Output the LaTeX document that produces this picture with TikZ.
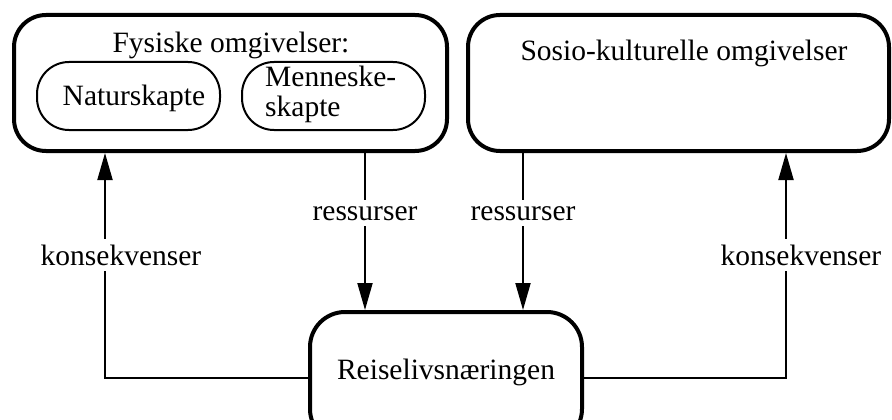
\documentclass[tikz,border=0pt]{standalone}
\usepackage{fontspec}
\setmainfont{Liberation Serif}
\usetikzlibrary{arrows.meta}
\begin{document}
\begin{tikzpicture}[x=1pt,y=-1pt,
  bigbox/.style={draw,line width=4pt,rounded corners=32pt,inner sep=0pt},
  subbox/.style={draw,line width=2pt,rounded corners=32pt,inner sep=0pt},
  txt/.style={font=\fontsize{29.5}{30}\selectfont,inner sep=0pt,anchor=base},
  lbl/.style={txt,fill=white,inner xsep=2pt,inner ysep=6pt},
  conn/.style={line width=2pt,-{Triangle[length=27pt,width=15pt]}},
  plain/.style={line width=2pt}]
  \clip (0,0) rectangle (892,420);

  % outer boxes
  \node[bigbox,minimum width=433pt,minimum height=136pt] (phys) at (230.5,83) {};
  \node[bigbox,minimum width=421pt,minimum height=136pt] (soc) at (678.5,83) {};
  \node[bigbox,rounded corners=35pt,minimum width=272pt,minimum height=132pt] (tour) at (446,378) {};

  % inner boxes of the physical surroundings
  \node[subbox,minimum width=183pt,minimum height=68pt] (nat) at (128.5,96) {};
  \node[subbox,minimum width=183pt,minimum height=68pt] (man) at (333.5,96) {};

  % texts
  \node[txt] (physT) at (231,53) {Fysiske omgivelser:};
  \node[txt] (socT) at (684,61) {Sosio-kulturelle omgivelser};
  \node[txt] (natT) at (134,106) {Naturskapte};
  \node[txt,anchor=base west] (manT1) at (265,87) {Menneske-};
  \node[txt,anchor=base west] (manT2) at (265,117) {skapte};
  \node[txt] (tourT) at (446,379) {Reiselivsnæringen};

  % x positions of the vertical connectors
  \coordinate (xr1) at (365,0);
  \coordinate (xr2) at (523,0);
  \coordinate (xk1) at (105,0);
  \coordinate (xk2) at (786,0);

  % resources flowing down into the industry
  \draw[conn] (phys.south -| xr1) -- (tour.north -| xr1);
  \draw[conn] (soc.south -| xr2) -- (tour.north -| xr2);

  % consequences flowing back up
  \draw[conn] (tour.west) -| (phys.south -| xk1);
  \draw[conn] (tour.east) -| (soc.south -| xk2);

  % connector labels
  \node[lbl] (r1) at (365,220) {ressurser};
  \node[lbl] (r2) at (523,220) {ressurser};
  \node[lbl] (k1) at (121,265) {konsekvenser};
  \node[lbl] (k2) at (801,265) {konsekvenser};
\end{tikzpicture}
\end{document}
